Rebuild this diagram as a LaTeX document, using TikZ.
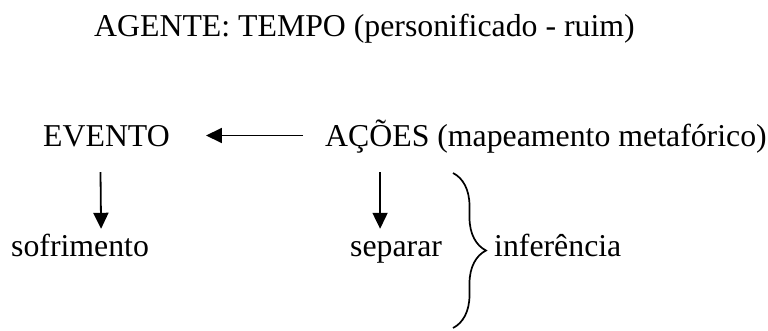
\documentclass[tikz,border=0pt]{standalone}
\usepackage{fontspec}
\setmainfont{Liberation Serif}
\usetikzlibrary{arrows.meta,decorations.pathreplacing}

\tikzset{
  rotulo/.style={font=\fontsize{31.8}{38}\selectfont, inner sep=0pt,
    text height=21pt, text depth=0pt, anchor=base west},
  seta/.style={line width=1.8pt, -{Triangle[length=16pt,width=15pt]}},
  chave/.style={line width=1.7pt, decorate,
    decoration={brace, amplitude=33pt, aspect=0.5}}
}

\begin{document}
\begin{tikzpicture}[x=1pt,y=1pt]
  \useasboundingbox (0,0) rectangle (768,330);

  \node[rotulo] (agente) at (94,293) {AGENTE: TEMPO (personificado - ruim)};

  \node[rotulo] (evento) at (43,184) {EVENTO};
  \node[rotulo] (acoes) at (325,184) {AÇÕES (mapeamento metafórico)};

  \node[rotulo] (sofrimento) at (11,74) {sofrimento};
  \node[rotulo] (separar) at (350,74) {separar};
  \node[rotulo] (inferencia) at (494,74) {inferência};

  \draw[seta] ([xshift=-22pt]acoes.west) -- ([xshift=36pt]evento.east);

  \draw[seta] ([xshift=-6pt,yshift=-26pt]evento.south) -- ([xshift=21pt,yshift=6pt]sofrimento.north);
  \draw[seta] ([xshift=55pt,yshift=-26pt]acoes.south west) -- ([xshift=-16pt,yshift=6pt]separar.north);

  \coordinate (chavetopo) at (453,157);
  \coordinate (chavebase) at (453,2);
  \draw[chave] (chavetopo) -- (chavebase);
\end{tikzpicture}
\end{document}
